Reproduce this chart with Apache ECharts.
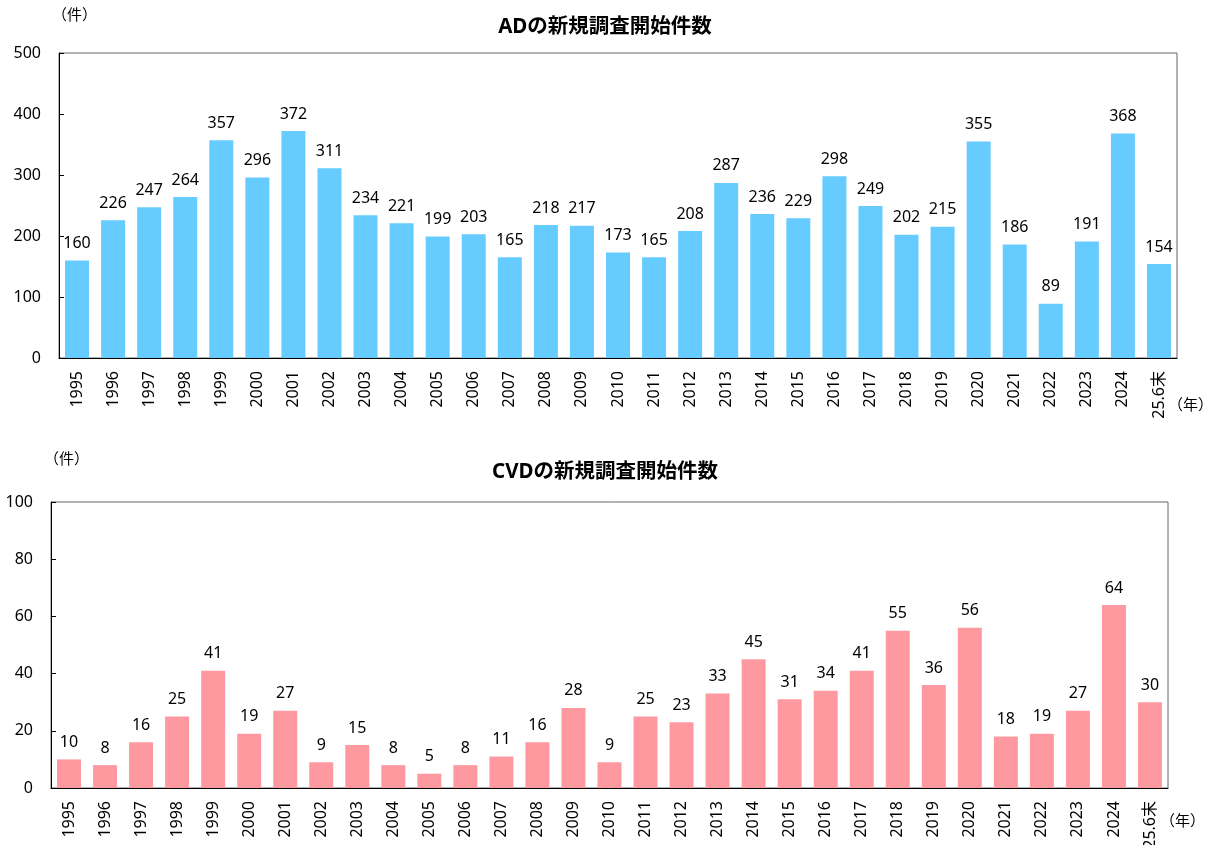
<!DOCTYPE html>
<html><head><meta charset="utf-8">
<script src="https://cdn.jsdelivr.net/npm/echarts@6/dist/echarts.min.js"></script>
<style>html,body{margin:0;padding:0;background:#fff}#c{width:1210px;height:845px}</style>
</head><body><div id="c"></div>
<script>
const categories = ['1995','1996','1997','1998','1999','2000','2001','2002','2003','2004','2005','2006','2007','2008','2009','2010','2011','2012','2013','2014','2015','2016','2017','2018','2019','2020','2021','2022','2023','2024','25.6末'];
const adValues = [160,226,247,264,357,296,372,311,234,221,199,203,165,218,217,173,165,208,287,236,229,298,249,202,215,355,186,89,191,368,154];
const cvdValues = [10,8,16,25,41,19,27,9,15,8,5,8,11,16,28,9,25,23,33,45,31,34,41,55,36,56,18,19,27,64,30];
const adTicks = [0,100,200,300,400,500];
const cvdTicks = [0,20,40,60,80,100];
const titles = ['ADの新規調査開始件数','CVDの新規調査開始件数'];

const FONT = '"Noto Sans", "Noto Sans CJK JP", sans-serif';
const chart = echarts.init(document.getElementById('c'), null, {renderer:'canvas'});
function xAx(gi){return {type:'category',gridIndex:gi,data:categories,
  axisLine:{lineStyle:{color:'#000',width:1}},
  axisTick:{inside:true,length:5,lineStyle:{color:'#000'}},
  axisLabel:{rotate:90,color:'#000',fontSize:16,fontFamily:FONT,margin:13}};}
function yAx(gi,ticks){return {type:'value',gridIndex:gi,min:ticks[0],max:ticks[ticks.length-1],interval:ticks[1]-ticks[0],
  axisLine:{show:true,lineStyle:{color:'#000',width:1}},
  axisTick:{show:true,inside:true,length:5,lineStyle:{color:'#000'}},
  splitLine:{show:false},
  axisLabel:{color:'#000',fontSize:16,fontFamily:FONT,margin:18}};}
chart.setOption({
  animation:false,
  textStyle:{fontFamily:FONT},
  title:[
    {text:titles[0],left:'center',top:12,textStyle:{fontSize:20.5,fontWeight:'bold',color:'#000',fontFamily:FONT}},
    {text:titles[1],left:'center',top:457,textStyle:{fontSize:20.5,fontWeight:'bold',color:'#000',fontFamily:FONT}}
  ],
  grid:[
    {left:59,top:53,width:1118,height:305,containLabel:false,outerBoundsMode:'none',show:true,borderColor:'#666',borderWidth:1,backgroundColor:'transparent'},
    {left:51,top:502,width:1117,height:286,containLabel:false,outerBoundsMode:'none',show:true,borderColor:'#666',borderWidth:1,backgroundColor:'transparent'}
  ],
  xAxis:[xAx(0),xAx(1)],
  yAxis:[yAx(0,adTicks),yAx(1,cvdTicks)],
  graphic:[
    {type:'text',left:52,top:8,style:{text:'（件）',fontSize:15,fontFamily:FONT,fill:'#000'}},
    {type:'text',left:44,top:452,style:{text:'（件）',fontSize:15,fontFamily:FONT,fill:'#000'}},
    {type:'text',left:1168,top:398,style:{text:'（年）',fontSize:15,fontFamily:FONT,fill:'#000'}},
    {type:'text',left:1160,top:814,style:{text:'（年）',fontSize:15,fontFamily:FONT,fill:'#000'}}
  ],
  series:[
    {type:'bar',xAxisIndex:0,yAxisIndex:0,data:adValues,barWidth:24,itemStyle:{color:'#66CCFF'},
     label:{show:true,position:'top',distance:9,color:'#000',fontSize:16,fontFamily:FONT}},
    {type:'bar',xAxisIndex:1,yAxisIndex:1,data:cvdValues,barWidth:24,itemStyle:{color:'#FF99A0'},
     label:{show:true,position:'top',distance:9,color:'#000',fontSize:16,fontFamily:FONT}}
  ]
});
</script></body></html>
